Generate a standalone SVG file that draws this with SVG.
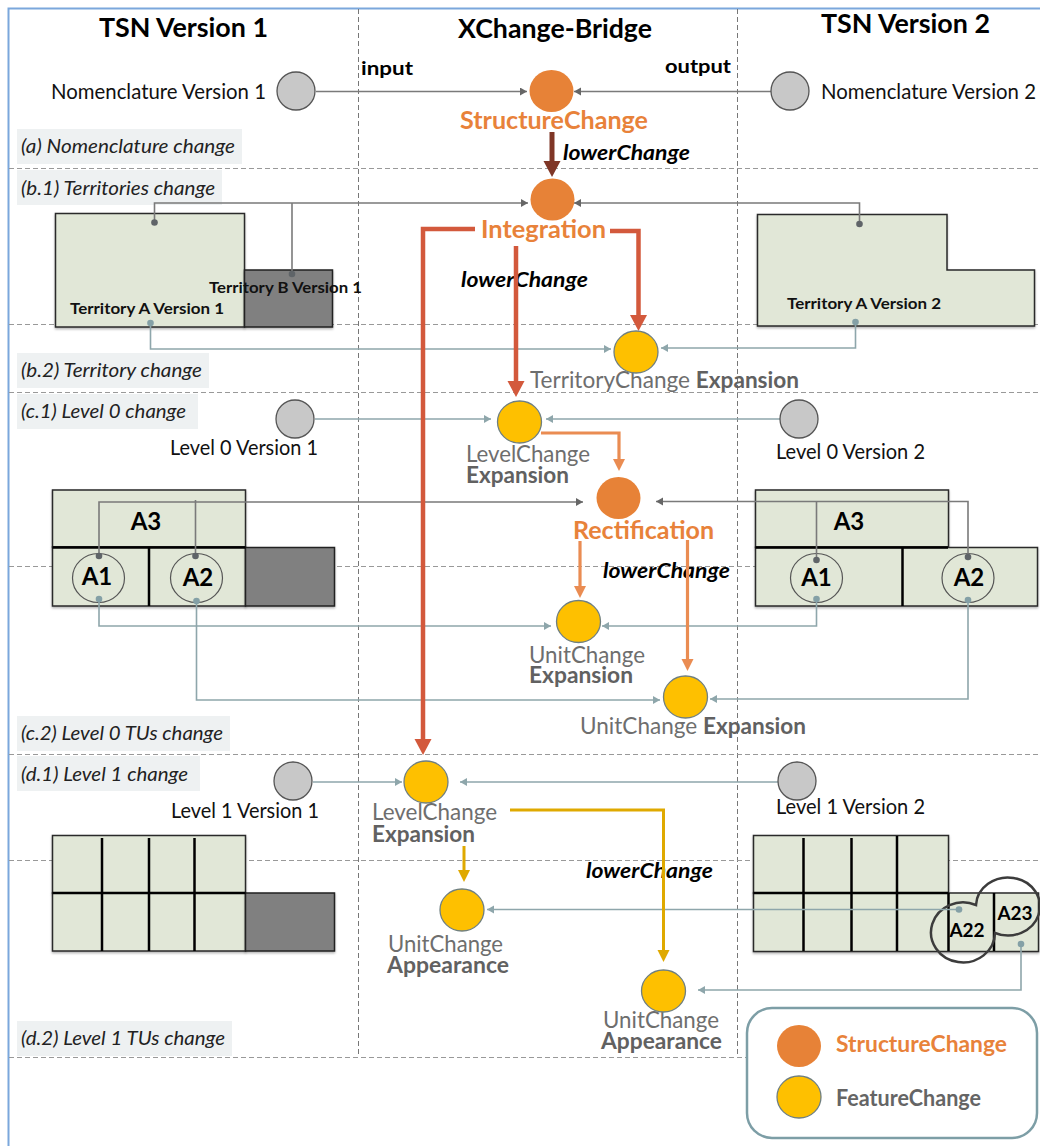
<svg xmlns="http://www.w3.org/2000/svg" width="1040" height="1146" viewBox="0 0 1040 1146">
<style>
text{font-family:Lato,"Open Sans","Liberation Sans",sans-serif;fill:#111}
.title{font-size:26px;font-weight:700;fill:#000}
.io{font-size:19px;font-weight:700;fill:#000}
.name{font-size:20.5px;fill:#111}
.sec{font-size:19px;font-style:italic;fill:#222}
.low{font-size:21px;font-weight:700;font-style:italic;fill:#000}
.sc{font-size:25px;font-weight:700;fill:#e8823a}
.fc{font-size:22.5px;fill:#6e6e6e}
.b{font-weight:700;fill:#616161}
.terr{font-size:16px;font-weight:700;fill:#111}
.unit{font-size:24px;font-weight:700;fill:#000}
.small{font-size:19px;font-weight:700;fill:#000}
.leg{font-size:22.5px;font-weight:700}
.grid{stroke-dasharray:5 3;stroke-width:1;fill:none}
.secbg{fill:#eef1f2}
.land{fill:#e1e7d7;stroke:#2a2a2a;stroke-width:1.5;filter:url(#sh)}
.gone{fill:#808080;stroke:#222;stroke-width:1.5;filter:url(#sh)}
.div{stroke:#000;stroke-width:2.5;fill:none}
.tu{fill:none;stroke:#555;stroke-width:1.2}
.in{fill:#c8c8c8;stroke:#555;stroke-width:1.3}
.st{fill:#e78237}
.fe{fill:#fec000;stroke:#6f7f80;stroke-width:1.3}
.gl{fill:none;stroke:#7a7a7a;stroke-width:1.6}
.tl{fill:none;stroke:#8ea6ab;stroke-width:1.6}
.red{fill:none;stroke:#d3593c;stroke-width:4.5}
.brw{fill:none;stroke:#7f3626;stroke-width:5}
.org{fill:none;stroke:#ea8c52;stroke-width:3.2}
.gld{fill:none;stroke:#dfa900;stroke-width:3}
</style>
<defs>
<filter id="sh" x="-5%" y="-5%" width="110%" height="115%"><feDropShadow dx="0" dy="1.5" stdDeviation="1.2" flood-color="#000" flood-opacity="0.3"/></filter>
<marker id="ag" markerUnits="userSpaceOnUse" markerWidth="8" markerHeight="9" refX="7" refY="4" orient="auto"><path d="M0,0L7,4L0,8Z" fill="#666"/></marker>
<marker id="at" markerUnits="userSpaceOnUse" markerWidth="8" markerHeight="9" refX="7" refY="4" orient="auto"><path d="M0,0L7,4L0,8Z" fill="#8ea6ab"/></marker>
<marker id="dg" markerUnits="userSpaceOnUse" markerWidth="8" markerHeight="8" refX="4" refY="4"><circle cx="4" cy="4" r="3.3" fill="#5f6468"/></marker>
<marker id="dt" markerUnits="userSpaceOnUse" markerWidth="8" markerHeight="8" refX="4" refY="4"><circle cx="4" cy="4" r="3.3" fill="#84a0a6"/></marker>
<marker id="ar" markerUnits="userSpaceOnUse" markerWidth="17" markerHeight="18" refX="1" refY="8.5" orient="auto"><path d="M0,0L16,8.5L0,17Z" fill="#d3593c"/></marker>
<marker id="ab" markerUnits="userSpaceOnUse" markerWidth="17" markerHeight="18" refX="1" refY="8.5" orient="auto"><path d="M0,0L16,8.5L0,17Z" fill="#7f3626"/></marker>
<marker id="ao" markerUnits="userSpaceOnUse" markerWidth="13" markerHeight="13" refX="1" refY="6" orient="auto"><path d="M0,0L12,6L0,12Z" fill="#ea8c52"/></marker>
<marker id="ay" markerUnits="userSpaceOnUse" markerWidth="13" markerHeight="13" refX="1" refY="6" orient="auto"><path d="M0,0L12,6L0,12Z" fill="#dfa900"/></marker>
</defs>
<rect width="1040" height="1146" fill="#fff"/>
<g id="frame">
<path d="M8.5,1146V8.5H1040" fill="none" stroke="#7ba7dc" stroke-width="2"/>
<path class="grid" stroke="#777" d="M358.5,9V1056M737.5,9V1056"/>
<path class="grid" stroke="#999" d="M9,168.5H1040M9,324.5H1040M9,392.5H1040M9,566.5H1040M9,754.5H1040M9,860.5H1040M9,1057.5H1040"/>
</g>
<g id="headers">
<text class="title" x="99" y="37" textLength="169" lengthAdjust="spacingAndGlyphs">TSN Version 1</text>
<text class="title" x="458" y="38" textLength="194" lengthAdjust="spacingAndGlyphs">XChange-Bridge</text>
<text class="title" x="821" y="33" textLength="169" lengthAdjust="spacingAndGlyphs">TSN Version 2</text>
<text class="io" x="361" y="75" textLength="52" lengthAdjust="spacingAndGlyphs">input</text>
<text class="io" x="665" y="73" textLength="66" lengthAdjust="spacingAndGlyphs">output</text>
</g>
<g id="sections">
<rect class="secbg" x="17" y="129" width="225" height="35"/><text class="sec" x="21" y="153" textLength="214" lengthAdjust="spacingAndGlyphs">(a) Nomenclature change</text>
<rect class="secbg" x="17" y="170" width="205" height="35"/><text class="sec" x="21" y="195" textLength="194" lengthAdjust="spacingAndGlyphs">(b.1) Territories change</text>
<rect class="secbg" x="17" y="353" width="192" height="35"/><text class="sec" x="21" y="377" textLength="181" lengthAdjust="spacingAndGlyphs">(b.2) Territory change</text>
<rect class="secbg" x="17" y="394" width="181" height="35"/><text class="sec" x="21" y="418" textLength="165" lengthAdjust="spacingAndGlyphs">(c.1) Level 0 change</text>
<rect class="secbg" x="17" y="716" width="213" height="35"/><text class="sec" x="21" y="740" textLength="202" lengthAdjust="spacingAndGlyphs">(c.2) Level 0 TUs change</text>
<rect class="secbg" x="17" y="756" width="183" height="35"/><text class="sec" x="21" y="781" textLength="167" lengthAdjust="spacingAndGlyphs">(d.1) Level 1 change</text>
<rect class="secbg" x="17" y="1021" width="215" height="35"/><text class="sec" x="21" y="1045" textLength="204" lengthAdjust="spacingAndGlyphs">(d.2) Level 1 TUs change</text>
</g>
<g id="territories-v1">
<rect class="land" x="55.5" y="213.5" width="189" height="113.5"/>
<rect class="gone" x="244.5" y="270" width="88" height="57"/>
<text class="terr" x="209" y="293" textLength="153" lengthAdjust="spacingAndGlyphs">Territory B Version 1</text>
<text class="terr" x="70" y="314" textLength="154" lengthAdjust="spacingAndGlyphs">Territory A Version 1</text>
</g>
<g id="territory-v2">
<path class="land" d="M757.5,214.5H947V270H1034.5V326H757.5Z"/>
<text class="terr" x="787" y="309" textLength="154" lengthAdjust="spacingAndGlyphs">Territory A Version 2</text>
</g>
<g id="level0-v1">
<rect class="land" x="52.5" y="490" width="193" height="57"/>
<rect class="land" x="52.5" y="547" width="193" height="59"/>
<rect class="gone" x="245.5" y="547.5" width="89" height="58.5"/>
<path class="div" d="M52.5,547.5H245.5M149,547.5V606"/>
<text class="unit" x="146" y="530" text-anchor="middle">A3</text>
<ellipse class="tu" cx="98.5" cy="578" rx="26" ry="24.5"/>
<ellipse class="tu" cx="196.5" cy="578" rx="26" ry="24.5"/>
<text class="unit" x="97" y="585" text-anchor="middle">A1</text>
<text class="unit" x="198" y="586" text-anchor="middle">A2</text>
</g>
<g id="level0-v2">
<rect class="land" x="755.5" y="490" width="193" height="57"/>
<rect class="land" x="755.5" y="547.5" width="282" height="58.5"/>
<path class="div" d="M755.5,547.5H948M902.5,548V606"/>
<text class="unit" x="849" y="530" text-anchor="middle">A3</text>
<ellipse class="tu" cx="816.5" cy="578" rx="26" ry="24.5"/>
<ellipse class="tu" cx="968" cy="578" rx="26" ry="24.5"/>
<text class="unit" x="816.5" y="586" text-anchor="middle">A1</text>
<text class="unit" x="969" y="586" text-anchor="middle">A2</text>
</g>
<g id="level1-v1">
<rect class="land" x="52.5" y="835.5" width="193" height="57.5"/>
<rect class="land" x="52.5" y="893" width="193" height="58"/>
<rect class="gone" x="245.5" y="893" width="89" height="58"/>
<path class="div" d="M52.5,893H245.5M102,838V951M149,838V951M194.5,838V951"/>
</g>
<g id="level1-v2">
<rect class="land" x="753.5" y="835.5" width="195" height="57.5"/>
<rect class="land" x="753.5" y="893" width="285" height="58.5"/>
<path class="div" d="M753.5,893H948.5M803.5,838V951M851.5,838V951M897,836V951M948.5,893V951M994,893V951"/>
<path d="M976,905A32,29 0 1 1 995,933A32,30 0 1 1 976,905Z" fill="none" stroke="#3c3c3c" stroke-width="2.5"/>
<text class="small" x="967" y="937" text-anchor="middle">A22</text>
<text class="small" x="1015" y="920" text-anchor="middle">A23</text>
</g>
<g id="labels">
<text class="name" x="51" y="99" textLength="215" lengthAdjust="spacingAndGlyphs">Nomenclature Version 1</text>
<text class="name" x="821" y="99" textLength="215" lengthAdjust="spacingAndGlyphs">Nomenclature Version 2</text>
<text class="name" x="170" y="455" textLength="148" lengthAdjust="spacingAndGlyphs">Level 0 Version 1</text>
<text class="name" x="776" y="459" textLength="149" lengthAdjust="spacingAndGlyphs">Level 0 Version 2</text>
<text class="name" x="171" y="818" textLength="148" lengthAdjust="spacingAndGlyphs">Level 1 Version 1</text>
<text class="name" x="776" y="814" textLength="149" lengthAdjust="spacingAndGlyphs">Level 1 Version 2</text>
<text class="sc" x="460" y="129" textLength="188" lengthAdjust="spacingAndGlyphs">StructureChange</text>
<text class="sc" x="481" y="238" textLength="125" lengthAdjust="spacingAndGlyphs">Integration</text>
<text class="sc" x="573" y="539" textLength="141" lengthAdjust="spacingAndGlyphs">Rectification</text>
<text class="low" x="563" y="160" textLength="127" lengthAdjust="spacingAndGlyphs">lowerChange</text>
<text class="low" x="461" y="287" textLength="127" lengthAdjust="spacingAndGlyphs">lowerChange</text>
<text class="low" x="603" y="578" textLength="127" lengthAdjust="spacingAndGlyphs">lowerChange</text>
<text class="low" x="586" y="878" textLength="127" lengthAdjust="spacingAndGlyphs">lowerChange</text>
<text class="fc" x="530" y="388" textLength="269" lengthAdjust="spacingAndGlyphs">TerritoryChange <tspan class="b">Expansion</tspan></text>
<text class="fc" x="466" y="462" textLength="124" lengthAdjust="spacingAndGlyphs">LevelChange</text>
<text class="fc b" x="466" y="483" textLength="103" lengthAdjust="spacingAndGlyphs">Expansion</text>
<text class="fc" x="529" y="663" textLength="116" lengthAdjust="spacingAndGlyphs">UnitChange</text>
<text class="fc b" x="529" y="683" textLength="104" lengthAdjust="spacingAndGlyphs">Expansion</text>
<text class="fc" x="580" y="734" textLength="226" lengthAdjust="spacingAndGlyphs">UnitChange <tspan class="b">Expansion</tspan></text>
<text class="fc" x="372" y="820" textLength="125" lengthAdjust="spacingAndGlyphs">LevelChange</text>
<text class="fc b" x="372" y="842" textLength="103" lengthAdjust="spacingAndGlyphs">Expansion</text>
<text class="fc" x="388" y="952" textLength="115" lengthAdjust="spacingAndGlyphs">UnitChange</text>
<text class="fc b" x="387" y="973" textLength="122" lengthAdjust="spacingAndGlyphs">Appearance</text>
<text class="fc" x="603" y="1028" textLength="116" lengthAdjust="spacingAndGlyphs">UnitChange</text>
<text class="fc b" x="601" y="1049" textLength="121" lengthAdjust="spacingAndGlyphs">Appearance</text>
</g>
<g id="connectors">
<path class="gl" marker-end="url(#ag)" d="M316,91.5H527"/>
<path class="gl" marker-end="url(#ag)" d="M771,91.5H574"/>
<path class="gl" marker-start="url(#dg)" marker-end="url(#ag)" d="M154.500,222.500V203H528"/>
<path class="gl" marker-start="url(#dg)" d="M292,274V203"/>
<path class="gl" marker-start="url(#dg)" marker-end="url(#ag)" d="M859.500,224V203H574"/>
<path class="tl" marker-start="url(#dt)" marker-end="url(#at)" d="M150.500,323V349H611"/>
<path class="tl" marker-start="url(#dt)" marker-end="url(#at)" d="M855.500,322V348H661"/>
<path class="tl" marker-end="url(#at)" d="M315,419H491"/>
<path class="tl" marker-end="url(#at)" d="M780,419H546"/>
<path class="gl" marker-start="url(#dg)" marker-end="url(#ag)" d="M99,556V502H583"/>
<path class="gl" marker-start="url(#dg)" d="M195.500,556V500"/>
<path class="gl" marker-start="url(#dg)" marker-end="url(#ag)" d="M968,557V501.500H656"/>
<path class="gl" marker-start="url(#dg)" d="M816.500,560V501.500"/>
<path class="tl" marker-start="url(#dt)" marker-end="url(#at)" d="M99,599V626H551"/>
<path class="tl" marker-start="url(#dt)" marker-end="url(#at)" d="M196.500,601V700H660"/>
<path class="tl" marker-start="url(#dt)" marker-end="url(#at)" d="M816.500,599V626H602"/>
<path class="tl" marker-start="url(#dt)" marker-end="url(#at)" d="M968,600V699H710"/>
<path class="tl" marker-end="url(#at)" d="M313,782H402"/>
<path class="tl" marker-end="url(#at)" d="M778,782H460"/>
<path class="tl" marker-start="url(#dt)" marker-end="url(#at)" d="M959,909.500H487"/>
<path class="tl" marker-start="url(#dt)" marker-end="url(#at)" d="M1021,944V990H698"/>
<path class="brw" marker-end="url(#ab)" d="M552,132V162"/>
<path class="red" marker-end="url(#ar)" d="M475,229H423V740"/>
<path class="red" marker-end="url(#ar)" d="M610,231H638.500V316"/>
<path class="red" marker-end="url(#ar)" d="M516,246V382"/>
<path class="org" marker-end="url(#ao)" d="M541,433H619V460"/>
<path class="org" marker-end="url(#ao)" d="M580,541V587"/>
<path class="org" marker-end="url(#ao)" d="M687.500,540V660"/>
<path class="gld" marker-end="url(#ay)" d="M510,810H663.500V951"/>
<path class="gld" marker-end="url(#ay)" d="M464,846V871"/>
</g>
<g id="inputs">
<circle class="in" cx="296" cy="91" r="19"/>
<circle class="in" cx="790" cy="91" r="19"/>
<circle class="in" cx="295" cy="419" r="19"/>
<circle class="in" cx="799" cy="419" r="19"/>
<circle class="in" cx="293" cy="781" r="19"/>
<circle class="in" cx="797" cy="781" r="19"/>
</g>
<g id="structure-changes">
<ellipse class="st" cx="551.500" cy="91" rx="22" ry="21"/>
<ellipse class="st" cx="552.500" cy="199.500" rx="22" ry="21"/>
<ellipse class="st" cx="618.500" cy="498" rx="22" ry="21"/>
</g>
<g id="feature-changes">
<ellipse class="fe" cx="636" cy="352" rx="22" ry="21"/>
<ellipse class="fe" cx="519.500" cy="422" rx="22" ry="21"/>
<ellipse class="fe" cx="578.500" cy="621.500" rx="22" ry="21"/>
<ellipse class="fe" cx="685.500" cy="697" rx="22" ry="21"/>
<ellipse class="fe" cx="426" cy="782" rx="22" ry="21"/>
<ellipse class="fe" cx="462" cy="910" rx="22" ry="21"/>
<ellipse class="fe" cx="663.500" cy="991" rx="22" ry="21"/>
</g>
<g id="legend">
<rect x="747" y="1008" width="290" height="130" rx="25" fill="#fff" stroke="#7d9ea6" stroke-width="2.500"/>
<ellipse class="st" cx="799" cy="1046" rx="22" ry="21"/>
<ellipse class="fe" cx="799" cy="1097" rx="22" ry="21"/>
<text class="leg" x="836" y="1052" textLength="171" lengthAdjust="spacingAndGlyphs" style="fill:#e8823a">StructureChange</text>
<text class="leg" x="836" y="1106" textLength="145" lengthAdjust="spacingAndGlyphs" style="fill:#656565">FeatureChange</text>
</g>
</svg>
